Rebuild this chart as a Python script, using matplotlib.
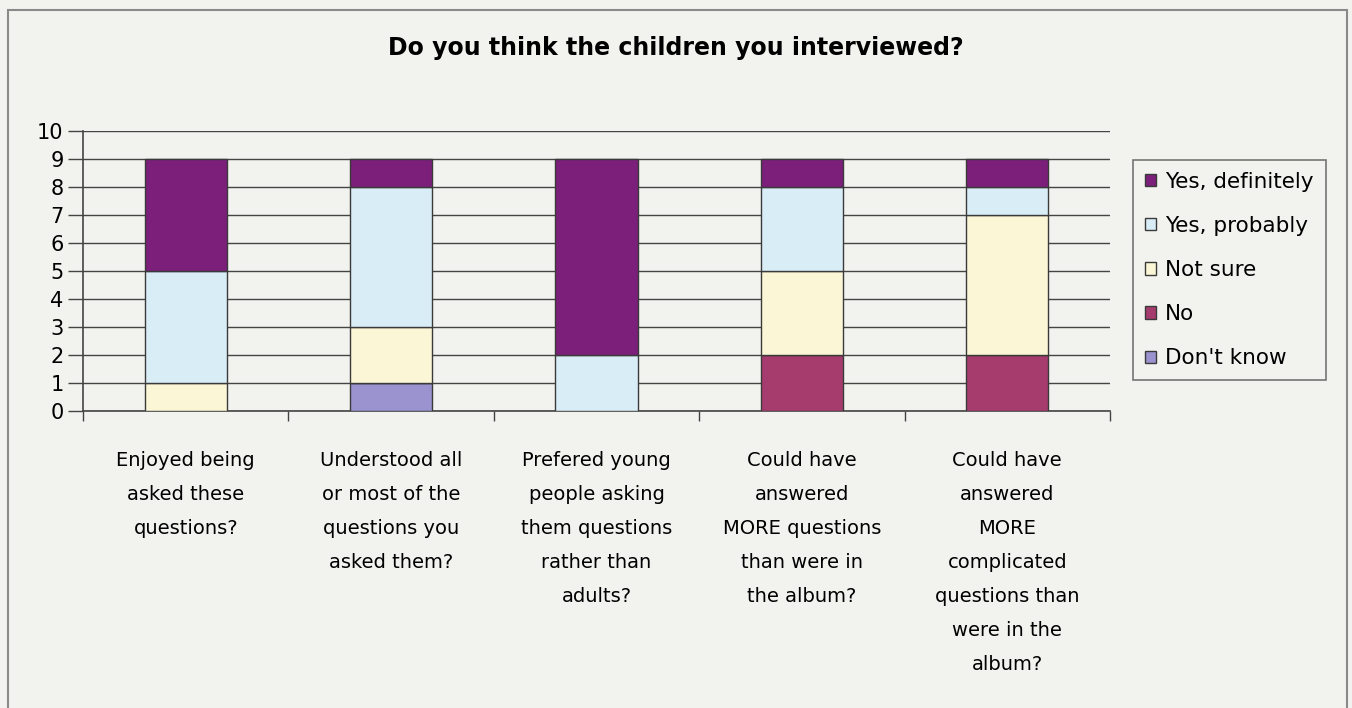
import matplotlib.pyplot as plt
import numpy as np
from matplotlib.patches import Rectangle

# categories and stacked counts
questions = ['Enjoyed being\nasked these\nquestions?',
             'Understood all\nor most of the\nquestions you\nasked them?',
             'Prefered young\npeople asking\nthem questions\nrather than\nadults?',
             'Could have\nanswered\nMORE questions\nthan were in\nthe album?',
             'Could have\nanswered\nMORE\ncomplicated\nquestions than\nwere in the\nalbum?']

dont_know = [0, 1, 0, 0, 0]
no = [0, 0, 0, 2, 2]
not_sure = [1, 2, 0, 3, 5]
yes_probably = [4, 5, 2, 3, 1]
yes_definitely = [4, 1, 7, 1, 1]

series_names = ["Don't know", 'No', 'Not sure', 'Yes, probably', 'Yes, definitely']
series_vals = [dont_know, no, not_sure, yes_probably, yes_definitely]
series_colors = ['#9b93cf', '#a63c6e', '#fbf7d6', '#d9edf6', '#7b1f7a']

bg = '#f2f2ee'
plt.rcParams['font.family'] = 'DejaVu Sans'

fig = plt.figure(figsize=(13.52, 7.08), dpi=100, facecolor=bg)
ax = fig.add_axes([83 / 1352, 1 - 411 / 708, (1110 - 83) / 1352, (411 - 131) / 708])
ax.set_facecolor(bg)

# outer frame
fig.patches.append(Rectangle((8 / 1352, -0.01), (1347 - 8) / 1352, 1 - 10 / 708 + 0.01,
                             transform=fig.transFigure, fill=False,
                             edgecolor='#8a8a8a', linewidth=1.5))

x = np.arange(len(questions))
bottom = np.zeros(len(questions))
handles = []
for name, vals, col in zip(series_names, series_vals, series_colors):
    vals = np.array(vals, dtype=float)
    b = ax.bar(x, vals, 0.4, bottom=bottom, color=col, edgecolor='#3a3a3a',
               linewidth=1.0, zorder=3, label=name)
    handles.append(b)
    bottom += vals

ax.set_xlim(-0.5, len(questions) - 0.5)
ax.set_ylim(0, 10)
ax.set_yticks(range(0, 11))
ax.yaxis.grid(True, color='#444444', linewidth=1.0, zorder=1)

ax.set_xticks(x)
ax.set_xticklabels(questions, fontsize=14, linespacing=2.0, va='top')
ax.set_xticks(np.arange(-0.5, len(questions)), minor=True)
ax.tick_params(axis='x', which='major', length=0, pad=29)
ax.tick_params(axis='x', which='minor', length=7, width=1, color='#444444', direction='out')
ax.tick_params(axis='y', labelsize=15, length=11, width=1, color='#444444', pad=3)

for side in ['top', 'right']:
    ax.spines[side].set_visible(False)
for side in ['left', 'bottom']:
    ax.spines[side].set_color('#444444')
    ax.spines[side].set_linewidth(1.2)

fig.text(0.5, 1 - 48 / 708, 'Do you think the children you interviewed?',
         ha='center', va='center', fontsize=17, fontweight='bold')

leg = fig.legend(handles[::-1], series_names[::-1], loc='upper left',
                 bbox_to_anchor=(1133 / 1352, 1 - 160 / 708), fontsize=15.5,
                 handlelength=0.5, handleheight=0.5, handletextpad=0.45,
                 labelspacing=1.12, borderpad=0.55, fancybox=False,
                 frameon=True, facecolor=bg, edgecolor='#555555',
                 borderaxespad=0)
leg.get_frame().set_linewidth(1.2)

fig.savefig('out.png', dpi=100, facecolor=bg)
